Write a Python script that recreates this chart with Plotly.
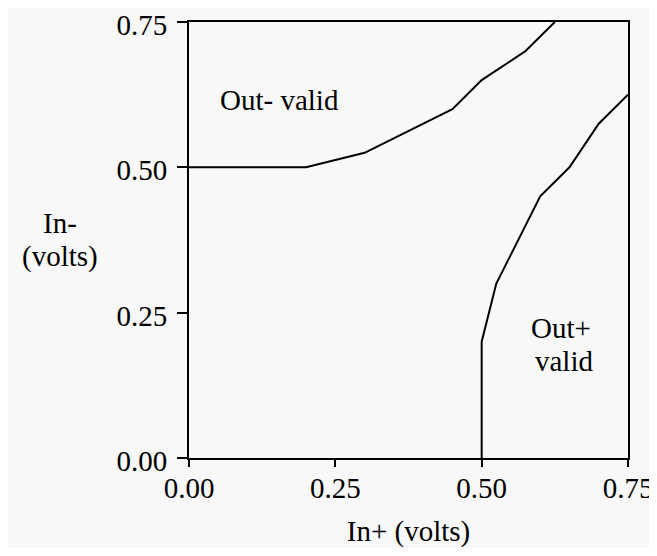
import plotly.graph_objects as go

# Boundary of "Out- valid" region
out_minus_x = [0.0, 0.2, 0.3, 0.45, 0.5, 0.575, 0.625]
out_minus_y = [0.5, 0.5, 0.525, 0.6, 0.65, 0.7, 0.75]

# Boundary of "Out+ valid" region
out_plus_x = [0.5, 0.5, 0.525, 0.6, 0.65, 0.7, 0.75]
out_plus_y = [0.0, 0.2, 0.3, 0.45, 0.5, 0.575, 0.625]

tick_vals = [0.0, 0.25, 0.5, 0.75]
tick_text = ["0.00", "0.25", "0.50", "0.75"]

FONT = "Liberation Serif, Times New Roman, serif"
BG = "#f8f8f8"
FS = 29

fig = go.Figure()
fig.add_trace(go.Scatter(x=out_minus_x, y=out_minus_y, mode="lines",
                         line=dict(color="black", width=2), showlegend=False))
fig.add_trace(go.Scatter(x=out_plus_x, y=out_plus_y, mode="lines",
                         line=dict(color="black", width=2), showlegend=False))

ann_font = dict(family=FONT, size=FS, color="black")
fig.add_annotation(x=0.154, y=0.616, text="Out- valid", showarrow=False, font=ann_font)
fig.add_annotation(x=0.636, y=0.2236, text="Out+", showarrow=False, font=ann_font)
fig.add_annotation(x=0.641, y=0.1669, text="valid", showarrow=False, font=ann_font)
fig.add_annotation(xref="paper", yref="paper", x=-0.293, y=0.538,
                   text="In-", showarrow=False, xanchor="center", font=ann_font)
fig.add_annotation(xref="paper", yref="paper", x=-0.293, y=0.462,
                   text="(volts)", showarrow=False, xanchor="center", font=ann_font)

fig.update_layout(
    width=649, height=540,
    margin=dict(l=181, r=29, t=14, b=90),
    paper_bgcolor=BG, plot_bgcolor=BG,
    font=dict(family=FONT, size=FS, color="black"),
    xaxis=dict(range=[0, 0.75], tickvals=tick_vals, ticktext=tick_text,
               automargin=False, ticklabeloverflow="allow",
               showgrid=False, zeroline=False, showline=True, linecolor="black",
               linewidth=2, mirror=True, ticks="outside", ticklen=7, tickwidth=2,
               tickcolor="black", ticklabelstandoff=-4,
               title=dict(text="In+ (volts)", standoff=25,
                          font=dict(family=FONT, size=FS))),
    yaxis=dict(range=[0, 0.75], tickvals=tick_vals, ticktext=tick_text,
               automargin=False, ticklabeloverflow="allow",
               showgrid=False, zeroline=False, showline=True, linecolor="black",
               linewidth=2, mirror=True, ticks="outside", ticklen=10, tickwidth=2,
               tickcolor="black", ticklabelstandoff=4, ticklabelshift=3),
)

fig.write_html("out.html")
